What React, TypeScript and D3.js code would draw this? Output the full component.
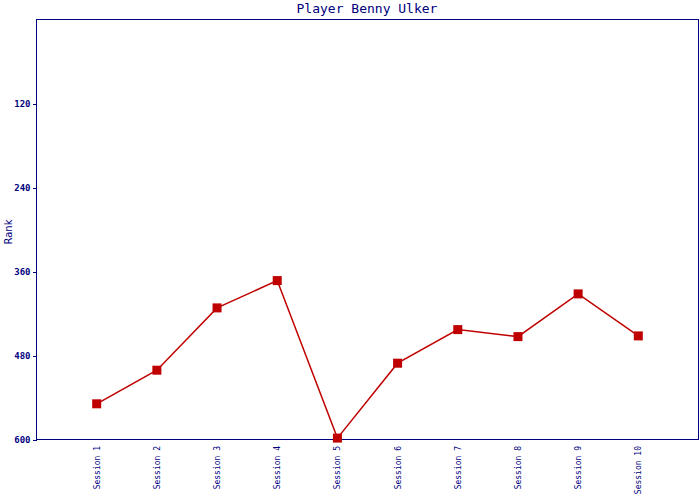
import React, { useEffect, useRef } from 'react';
import * as d3 from 'd3';

const sessions = ['Session 1', 'Session 2', 'Session 3', 'Session 4', 'Session 5', 'Session 6', 'Session 7', 'Session 8', 'Session 9', 'Session 10'];
const ranks = [549, 501, 412, 373, 598, 491, 443, 453, 392, 452];
const yTicks = [120, 240, 360, 480, 600];

const App: React.FC = () => {
  const svgRef = useRef<SVGSVGElement>(null);

  useEffect(() => {
    if (!svgRef.current) return;
    const svg = d3.select(svgRef.current);
    svg.selectAll('*').remove();

    const navy = '#000080';
    const red = '#C00000';
    const left = 36.5, right = 698.5, top = 19.5, bottom = 439.5;

    const x = d3.scalePoint<string>().domain(sessions).range([left, right]).padding(1);
    const y = d3.scaleLinear().domain([0, 600]).range([top, bottom]);

    svg.append('rect')
      .attr('x', left).attr('y', top)
      .attr('width', right - left).attr('height', bottom - top)
      .attr('fill', 'none').attr('stroke', navy).attr('stroke-width', 1)
      .attr('shape-rendering', 'crispEdges');

    // y ticks
    const yt = svg.append('g');
    yt.selectAll('line').data(yTicks).enter().append('line')
      .attr('x1', left - 4).attr('x2', left)
      .attr('y1', d => Math.round(y(d)) + 0.5).attr('y2', d => Math.round(y(d)) + 0.5)
      .attr('stroke', navy)
      .attr('shape-rendering', 'crispEdges');
    yt.selectAll('text').data(yTicks).enter().append('text')
      .attr('x', left - 6).attr('y', d => y(d) + 3.5)
      .attr('text-anchor', 'end')
      .attr('font-family', 'DejaVu Sans Mono')
      .attr('font-size', '9px').attr('font-weight', 'bold')
      .attr('fill', navy)
      .text(d => d);

    // x labels
    svg.selectAll('.xl').data(sessions).enter().append('text')
      .attr('class', 'xl')
      .attr('transform', d => `translate(${(x(d) as number) + 3},446) rotate(-90)`)
      .attr('text-anchor', 'end')
      .attr('font-family', 'DejaVu Sans Mono')
      .attr('font-size', '8px')
      .attr('fill', navy)
      .text(d => d);

    svg.append('text')
      .attr('x', 367).attr('y', 13)
      .attr('text-anchor', 'middle')
      .attr('font-family', 'DejaVu Sans Mono')
      .attr('font-size', '13px')
      .attr('fill', navy)
      .text('Player Benny Ulker');

    svg.append('text')
      .attr('transform', 'translate(12,232) rotate(-90)')
      .attr('text-anchor', 'middle')
      .attr('font-family', 'DejaVu Sans')
      .attr('font-size', '10px')
      .attr('fill', navy)
      .text('Rank');

    const line = d3.line<number>()
      .x((_, i) => x(sessions[i]) as number)
      .y(d => y(d));

    svg.append('path')
      .datum(ranks)
      .attr('d', line)
      .attr('fill', 'none')
      .attr('stroke', red)
      .attr('stroke-width', 1.5);

    svg.selectAll('.pt').data(ranks).enter().append('rect')
      .attr('class', 'pt')
      .attr('x', (_, i) => (x(sessions[i]) as number) - 4.5)
      .attr('y', d => y(d) - 4.5)
      .attr('width', 9).attr('height', 9)
      .attr('fill', red);
  }, []);

  return (
    <svg ref={svgRef} width={700} height={500}
      style={{ position: 'absolute', left: 0, top: 0, background: '#fff' }} />
  );
};

export default App;
